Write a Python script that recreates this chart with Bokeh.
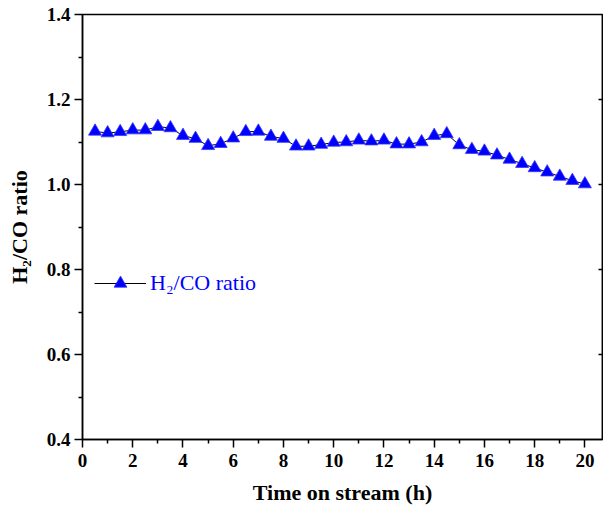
from bokeh.plotting import figure
from bokeh.models import Range1d, LinearAxis, Legend, LegendItem, FixedTicker, CustomJSTickFormatter
from bokeh.embed import file_html
from bokeh.resources import INLINE

time_h = [0.5, 1.0, 1.5, 2.0, 2.5, 3.0, 3.5, 4.0, 4.5, 5.0,
          5.5, 6.0, 6.5, 7.0, 7.5, 8.0, 8.5, 9.0, 9.5, 10.0,
          10.5, 11.0, 11.5, 12.0, 12.5, 13.0, 13.5, 14.0, 14.5, 15.0,
          15.5, 16.0, 16.5, 17.0, 17.5, 18.0, 18.5, 19.0, 19.5, 20.0]
h2_co_ratio = [1.125, 1.121, 1.124, 1.128, 1.128, 1.136, 1.133, 1.115, 1.108, 1.091,
               1.096, 1.109, 1.124, 1.125, 1.113, 1.108, 1.090, 1.090, 1.094, 1.099,
               1.100, 1.104, 1.102, 1.104, 1.095, 1.095, 1.100, 1.115, 1.119, 1.093,
               1.082, 1.078, 1.069, 1.059, 1.049, 1.039, 1.029, 1.019, 1.009, 1.001]
x_ticks = [0, 2, 4, 6, 8, 10, 12, 14, 16, 18, 20]
y_ticks = [0.4, 0.6, 0.8, 1.0, 1.2, 1.4]

FONT = "Liberation Serif"

p = figure(width=603, height=509, output_backend="svg", toolbar_location=None,
           x_range=Range1d(0, 20.7), y_range=Range1d(0.4, 1.4),
           min_border_left=82, min_border_right=1, min_border_top=14, min_border_bottom=69)
p.frame_width = 520
p.frame_height = 425
p.grid.visible = False
p.outline_line_color = "black"
p.outline_line_width = 1.5
p.background_fill_color = "white"
p.border_fill_color = "white"

for ax in (p.xaxis[0], p.yaxis[0]):
    ax.axis_line_width = 1.5
    ax.major_tick_line_width = 1.5
    ax.minor_tick_line_width = 1.5
    ax.major_tick_out = 8
    ax.major_tick_in = 0
    ax.minor_tick_out = 4
    ax.minor_tick_in = 0
    ax.major_label_text_font = FONT
    ax.major_label_text_font_style = "bold"
    ax.major_label_text_font_size = "19px"
    ax.major_label_text_color = "black"
    ax.axis_label_text_font = FONT
    ax.axis_label_text_font_style = "bold"
    ax.axis_label_text_font_size = "22px"
    ax.axis_label_text_color = "black"

p.xaxis[0].ticker = FixedTicker(ticks=x_ticks, minor_ticks=list(range(1, 21, 2)))
p.yaxis[0].ticker = FixedTicker(ticks=y_ticks, minor_ticks=[0.5, 0.7, 0.9, 1.1, 1.3])
p.yaxis[0].formatter = CustomJSTickFormatter(code="return tick.toFixed(1);")
p.xaxis[0].axis_label = "Time on stream (h)"
p.yaxis[0].axis_label = "H\u2082/CO ratio"
p.xaxis[0].major_label_standoff = 6
p.xaxis[0].axis_label_standoff = 10
p.yaxis[0].major_label_standoff = 4
p.yaxis[0].axis_label_standoff = 12

right = LinearAxis(ticker=FixedTicker(ticks=y_ticks[1:-1]), major_tick_in=4, major_tick_out=0,
                   minor_tick_in=0, minor_tick_out=0,
                   formatter=CustomJSTickFormatter(code="return '';"),
                   major_label_text_font_size="1px", major_label_standoff=0,
                   axis_line_width=1.5, major_tick_line_width=1.5)
p.add_layout(right, "right")

ln = p.line(time_h, h2_co_ratio, line_color="black", line_width=1)
sc = p.scatter(time_h, h2_co_ratio, marker="triangle", size=13,
               fill_color="#0000FF", line_color="#3333FF", line_width=0.8)

legend = Legend(items=[LegendItem(label="H\u2082/CO ratio", renderers=[ln, sc])],
                location=(12, 140), glyph_width=52, glyph_height=32,
                label_standoff=4, padding=0, margin=0, border_line_color=None,
                background_fill_alpha=0, label_text_font=FONT,
                label_text_font_size="22px", label_text_color="#0000FF")
p.add_layout(legend, "center")

open("out.html", "w").write(file_html(p, INLINE))
